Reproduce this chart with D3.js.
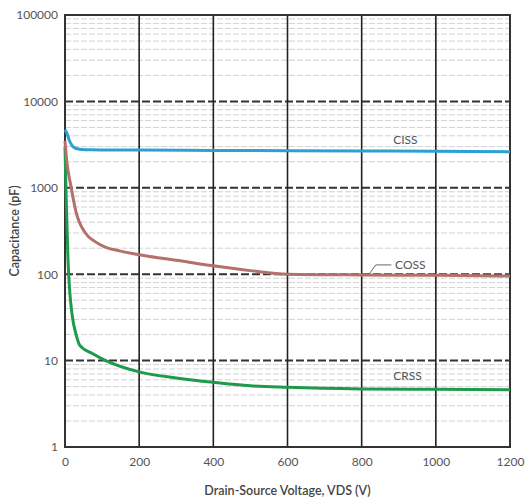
<!DOCTYPE html>
<html><head><meta charset="utf-8">
<script src="https://cdn.jsdelivr.net/npm/d3@7/dist/d3.min.js"></script>
<style>body{margin:0;background:#fff;} svg{display:block;}</style>
</head><body>
<svg id="c" width="526" height="502"></svg>
<script>
const xTicks = [0, 200, 400, 600, 800, 1000, 1200];
const yTicks = [1, 10, 100, 1000, 10000, 100000];
const yTickLabels = ["1", "10", "100", "1000", "10000", "100000"];

const cissV = [0, 5, 12, 20, 30, 45, 70, 120, 200, 400, 600, 800, 1000, 1200];
const cissC = [4700, 4300, 3500, 3050, 2850, 2780, 2750, 2740, 2730, 2710, 2690, 2670, 2650, 2620];

const cossV = [0, 5, 15, 30, 55, 80, 110, 150, 200, 300, 400, 500, 600, 800, 1000, 1200];
const cossC = [3500, 2000, 1100, 520, 300, 240, 205, 185, 168, 145, 125, 110, 100, 98, 97, 95];

const crssV = [0, 3, 8, 12, 20, 30, 40, 75, 110, 200, 300, 400, 500, 600, 800, 1000, 1200];
const crssC = [3000, 800, 150, 70, 32, 20, 15, 12, 10, 7.4, 6.3, 5.6, 5.1, 4.9, 4.7, 4.65, 4.6];

const svg = d3.select("#c");
const L = 65, R = 510, T = 15, B = 447;
const x = d3.scaleLinear().domain([0, 1200]).range([L, R]);
const y = d3.scaleLog().domain([1, 100000]).range([B, T]);
const font = "Lato, 'Open Sans', sans-serif";

// minor horizontal gridlines
const minor = [];
for (let d = 1; d < 100000; d *= 10) for (let k = 2; k <= 9; k++) minor.push(d * k);
svg.append("g").selectAll("line").data(minor).join("line")
  .attr("x1", L).attr("x2", R).attr("y1", d => y(d)).attr("y2", d => y(d))
  .attr("stroke", "#d2d2d2").attr("stroke-width", 1).attr("stroke-dasharray", "6,2");

// major horizontal dashed
svg.append("g").selectAll("line").data(yTicks.slice(1, -1)).join("line")
  .attr("x1", L).attr("x2", R).attr("y1", d => y(d)).attr("y2", d => y(d))
  .attr("stroke", "#333").attr("stroke-width", 2).attr("stroke-dasharray", "8,3");

// vertical gridlines
svg.append("g").selectAll("line").data(xTicks.slice(1, -1)).join("line")
  .attr("x1", d => x(d)).attr("x2", d => x(d)).attr("y1", T).attr("y2", B)
  .attr("stroke", "#222").attr("stroke-width", 1.6);

// border
svg.append("rect").attr("x", L).attr("y", T).attr("width", R - L).attr("height", B - T)
  .attr("fill", "none").attr("stroke", "#333").attr("stroke-width", 2);

// curves
const line = d3.line().x(d => x(d[0])).y(d => y(d[1])).curve(d3.curveMonotoneX);
const series = [
  {V: crssV, C: crssC, color: "#1e9a4c"},
  {V: cossV, C: cossC, color: "#b3716b"},
  {V: cissV, C: cissC, color: "#2c9fd3"}
];
series.forEach(s => {
  svg.append("path").datum(s.V.map((v, i) => [v, s.C[i]]))
    .attr("d", line).attr("fill", "none").attr("stroke", s.color).attr("stroke-width", 3);
});

// axes labels
const ax = d3.axisBottom(x).tickValues(xTicks).tickFormat(d3.format("d")).tickSize(0).tickPadding(10);
const gx = svg.append("g").attr("transform", `translate(0,${B})`).call(ax);
gx.select(".domain").remove();
gx.selectAll("text").attr("font-family", font).attr("font-size", 12).attr("fill", "#555");

const ay = d3.axisLeft(y).tickValues(yTicks).tickFormat((d, i) => yTickLabels[i]).tickSize(0).tickPadding(7);
const gy = svg.append("g").attr("transform", `translate(${L},0)`).call(ay);
gy.select(".domain").remove();
gy.selectAll("text").attr("font-family", font).attr("font-size", 12).attr("fill", "#555");

svg.append("text").attr("x", (L + R) / 2).attr("y", 495).attr("text-anchor", "middle")
  .attr("font-family", font).attr("font-size", 12.5).attr("font-weight", 600).attr("fill", "#444")
  .text("Drain-Source Voltage, VDS (V)");
svg.append("text").attr("transform", `translate(19,${(T + B) / 2}) rotate(-90)`).attr("text-anchor", "middle")
  .attr("font-family", font).attr("font-size", 12.5).attr("font-weight", 600).attr("fill", "#444")
  .text("Capacitance (pF)");

// series labels
const lab = (t, v, c) => svg.append("text").attr("x", x(v)).attr("y", y(c)).attr("dy", "0.35em")
  .attr("font-family", font).attr("font-size", 12).attr("fill", "#555").text(t);
lab("CISS", 885, 3600);
lab("COSS", 890, 128);
lab("CRSS", 885, 6.7);
svg.append("path")
  .attr("d", `M${x(820)},${y(100)} L${x(838)},${y(128)} L${x(880)},${y(128)}`)
  .attr("fill", "none").attr("stroke", "#666").attr("stroke-width", 1);
</script>
</body></html>
